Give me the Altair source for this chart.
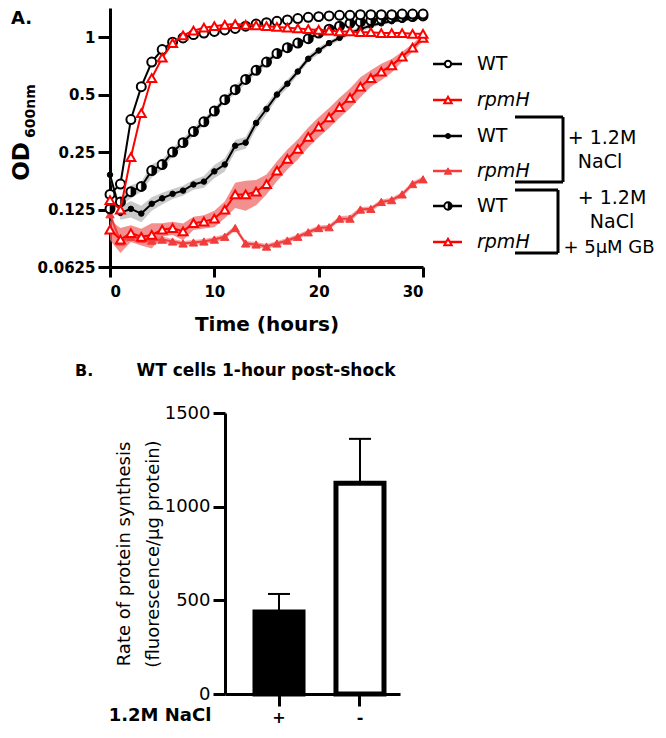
import altair as alt
import pandas as pd

# ---------------- data: panel A (OD600, hours 0..30) ----------------
hours = list(range(31))
wt = [0.15, 0.17, 0.37, 0.55, 0.74, 0.86, 0.94, 0.99, 1.03, 1.05, 1.07, 1.09, 1.11, 1.14, 1.17, 1.19,
      1.21, 1.23, 1.25, 1.27, 1.28, 1.29, 1.30, 1.30, 1.31, 1.31, 1.31, 1.31, 1.32, 1.32, 1.32]
rpmh = [0.14, 0.125, 0.235, 0.40, 0.61, 0.78, 0.93, 1.02, 1.08, 1.12, 1.14, 1.16, 1.17, 1.16, 1.15, 1.14,
        1.13, 1.12, 1.11, 1.10, 1.09, 1.08, 1.07, 1.07, 1.06, 1.06, 1.05, 1.05, 1.05, 1.04, 1.04]
wt_nacl = [0.19, 0.12, 0.126, 0.119, 0.134, 0.143, 0.151, 0.157, 0.169, 0.175, 0.198, 0.215, 0.27, 0.28,
           0.355, 0.42, 0.50, 0.57, 0.66, 0.77, 0.85, 0.93, 0.99, 1.05, 1.10, 1.15, 1.18, 1.21, 1.23, 1.25, 1.27]
rpmh_nacl = [0.118, 0.085, 0.09, 0.088, 0.086, 0.087, 0.085, 0.083, 0.084, 0.085, 0.087, 0.09, 0.1, 0.083,
             0.082, 0.08, 0.083, 0.086, 0.09, 0.095, 0.1, 0.101, 0.112, 0.112, 0.125, 0.126, 0.137, 0.14,
             0.15, 0.17, 0.18]
wt_nacl_gb = [0.126, 0.137, 0.155, 0.165, 0.2, 0.215, 0.25, 0.28, 0.32, 0.36, 0.41, 0.47, 0.53, 0.6, 0.67,
              0.74, 0.82, 0.88, 0.93, 0.98, 1.05, 1.1, 1.14, 1.18, 1.2, 1.22, 1.24, 1.26, 1.27, 1.28, 1.29]
rpmh_nacl_gb = [0.098, 0.087, 0.094, 0.09, 0.092, 0.098, 0.1, 0.096, 0.106, 0.108, 0.112, 0.125, 0.15, 0.15,
                0.155, 0.17, 0.2, 0.23, 0.26, 0.3, 0.34, 0.38, 0.43, 0.48, 0.55, 0.61, 0.66, 0.71, 0.79,
                0.88, 0.99]
# relative spread of the shaded error bands
sd_wt_nacl = [0.04, 0.08, 0.1, 0.1, 0.08, 0.07, 0.06, 0.06, 0.06, 0.07, 0.08, 0.08, 0.07, 0.07, 0.07, 0.06,
              0.05, 0.05, 0.04, 0.04, 0.04, 0.03, 0.03, 0.03, 0.03, 0.03, 0.02, 0.02, 0.02, 0.02, 0.02]
sd_wt_nacl_gb = [0.03, 0.04, 0.08, 0.06, 0.08, 0.06, 0.05, 0.05, 0.05, 0.04, 0.04, 0.04, 0.05, 0.05, 0.04,
                 0.04, 0.03, 0.03, 0.03, 0.03, 0.03, 0.03, 0.03, 0.02, 0.02, 0.02, 0.02, 0.02, 0.02, 0.02, 0.02]
sd_rpmh_nacl = [0.03, 0.04, 0.04, 0.04, 0.05, 0.04, 0.03, 0.03, 0.03, 0.03, 0.03, 0.03, 0.03, 0.03, 0.03,
                0.03, 0.03, 0.03, 0.03, 0.03, 0.03, 0.03, 0.03, 0.04, 0.03, 0.03, 0.03, 0.03, 0.03, 0.03, 0.03]
sd_rpmh_nacl_gb = [0.12, 0.15, 0.1, 0.1, 0.15, 0.08, 0.08, 0.1, 0.08, 0.08, 0.1, 0.1, 0.15, 0.18, 0.15,
                   0.12, 0.12, 0.12, 0.12, 0.12, 0.12, 0.12, 0.12, 0.12, 0.12, 0.1, 0.1, 0.08, 0.06, 0.05, 0.04]
od_ticks = [0.0625, 0.125, 0.25, 0.5, 1]
hour_ticks = [0, 10, 20, 30]

# ---------------- data: panel B ----------------
conditions = ["+", "-"]
rates = [438, 1125]
rate_err = [96, 237]
rate_ticks = [0, 500, 1000, 1500]

RED = "#ff0000"
RED2 = "#f23c3c"
BOLD = "DejaVu Sans"

# ---------------- encodings panel A ----------------
X_TOP = alt.X("t:Q",
              scale=alt.Scale(domain=[0, 30], range=[0, 313], nice=False, zero=False),
              axis=alt.Axis(orient="bottom", offset=-427, values=hour_ticks, title="Time (hours)",
                            labelFont=BOLD, labelFontWeight="bold", labelFontSize=15, labelColor="black",
                            labelPadding=7, tickSize=10, tickWidth=3, tickColor="black",
                            domainWidth=3, domainColor="black", grid=False,
                            titleFont=BOLD, titleFontWeight="bold", titleFontSize=20, titleColor="black",
                            titlePadding=15))
Y_AX = alt.Axis(orient="left", values=od_ticks, format="~g", title=None,
                labelFont=BOLD, labelFontWeight="bold", labelFontSize=15, labelColor="black",
                labelPadding=3, tickSize=12, tickWidth=3, tickColor="black",
                domainWidth=3, domainColor="black", grid=False)
Y_SCALE = alt.Scale(type="log", base=2, domain=[0.0625, 1.42], range=[259, 0], nice=False)


def series_df(vals, sd):
    return pd.DataFrame({"t": hours, "od": vals,
                         "lo": [v * (1 - s) for v, s in zip(vals, sd)],
                         "hi": [v * (1 + s) for v, s in zip(vals, sd)]})


def band(df, color, op):
    return alt.Chart(df).mark_area(color=color, opacity=op).encode(
        x=X_TOP, y=alt.Y("lo:Q", scale=Y_SCALE, axis=Y_AX), y2="hi:Q")


def line(df, color):
    return alt.Chart(df).mark_line(color=color, strokeWidth=2).encode(
        x=X_TOP, y=alt.Y("od:Q", scale=Y_SCALE, axis=Y_AX))


def pts(df, shape, fill, stroke, size, sw):
    return alt.Chart(df).mark_point(shape=shape, filled=True, fill=fill, stroke=stroke,
                                    strokeWidth=sw, size=size, opacity=1).encode(
        x=X_TOP, y=alt.Y("od:Q", scale=Y_SCALE, axis=Y_AX))


HALF = "M0,-1A1,1,0,0,1,0,1Z"

d_wt = series_df(wt, [0] * 31)
d_rpmh = series_df(rpmh, [0] * 31)
d_wtn = series_df(wt_nacl, sd_wt_nacl)
d_rpn = series_df(rpmh_nacl, sd_rpmh_nacl)
d_wtg = series_df(wt_nacl_gb, sd_wt_nacl_gb)
d_rpg = series_df(rpmh_nacl_gb, sd_rpmh_nacl_gb)

top_layers = [
    band(d_rpg, "#f06a6a", 0.75),
    band(d_rpn, "#f06a6a", 0.6),
    band(d_wtn, "#bdbdbd", 0.8),
    band(d_wtg, "#bdbdbd", 0.8),
    line(d_rpn, RED2), pts(d_rpn, "triangle-up", RED2, RED2, 70, 1),
    line(d_rpg, RED), pts(d_rpg, "triangle-up", "white", RED, 80, 2),
    line(d_wtn, "black"), pts(d_wtn, "circle", "black", "black", 30, 1),
    line(d_wtg, "black"), pts(d_wtg, "circle", "white", "black", 80, 2),
    pts(d_wtg, HALF, "black", "black", 80, 0.5),
    line(d_wt, "black"), pts(d_wt, "circle", "white", "black", 80, 2),
    line(d_rpmh, RED), pts(d_rpmh, "triangle-up", "white", RED, 80, 2),
]
top = alt.layer(*top_layers)

# ---------------- panel B ----------------
bar_df = pd.DataFrame({"cond": conditions, "rate": rates,
                       "top": [r + e for r, e in zip(rates, rate_err)]})
X_BAR = alt.X("cond:N", sort=conditions,
              scale=alt.Scale(domain=conditions, range=[115, 290], paddingInner=0.407,
                              paddingOuter=0.284, align=0.652),
              axis=alt.Axis(orient="bottom", title=None, labelAngle=0,
                            labelFont=BOLD, labelFontWeight="bold", labelFontSize=16, labelColor="black",
                            labelPadding=3, tickSize=12, tickWidth=3, tickColor="black",
                            domainWidth=3, domainColor="black", grid=False))
Y_BAR_SCALE = alt.Scale(domain=[0, 1500], range=[686, 405], nice=False)
Y_BAR_AX = alt.Axis(orient="left", offset=-115, values=rate_ticks, format="d",
                    title=["Rate of protein synthesis", "(fluorescence/\u03bcg protein)"],
                    titleFont="DejaVu Sans", titleFontWeight="normal", titleFontSize=18,
                    titleColor="black", titleLineHeight=29, titlePadding=2,
                    labelFont="DejaVu Sans", labelFontSize=18, labelColor="black", labelPadding=3,
                    tickSize=12, tickWidth=3, tickColor="black", domainWidth=3, domainColor="black",
                    grid=False)

bars = alt.Chart(bar_df).mark_bar(stroke="black", strokeWidth=5).encode(
    x=X_BAR,
    y=alt.Y("rate:Q", scale=Y_BAR_SCALE, axis=Y_BAR_AX),
    fill=alt.Fill("cond:N", scale=alt.Scale(domain=conditions, range=["black", "white"]), legend=None),
)
err_rule = alt.Chart(bar_df).mark_rule(color="black", strokeWidth=2).encode(
    x=X_BAR, y=alt.Y("rate:Q", scale=Y_BAR_SCALE, axis=Y_BAR_AX), y2="top:Q")
err_cap = alt.Chart(bar_df).mark_tick(color="black", size=22, thickness=2, opacity=1).encode(
    x=X_BAR, y=alt.Y("top:Q", scale=Y_BAR_SCALE, axis=Y_BAR_AX))
bottom = alt.layer(bars, err_rule, err_cap)

# ---------------- annotations (legend, brackets, labels) ----------------
ONE = alt.Data(values=[{}])


def txt(s, x, y, size, weight="normal", align="center", font="DejaVu Sans", style="normal",
        angle=0, baseline="middle"):
    return alt.Chart(ONE).mark_text(text=s, fontSize=size, fontWeight=weight, align=align,
                                    baseline=baseline, font=font, fontStyle=style, angle=angle,
                                    color="black").encode(x=alt.value(x), y=alt.value(y))


def seg(x1, y1, x2, y2, color="black", w=3):
    return alt.Chart(ONE).mark_rule(color=color, strokeWidth=w).encode(
        x=alt.value(x1), y=alt.value(y1), x2=alt.value(x2), y2=alt.value(y2))


def sym(x, y, shape, fill, stroke, size, sw):
    return alt.Chart(ONE).mark_point(shape=shape, filled=True, fill=fill, stroke=stroke,
                                     strokeWidth=sw, size=size, opacity=1).encode(
        x=alt.value(x), y=alt.value(y))


legend_rows = [
    ("WT", "normal", "black", [("circle", "white", "black", 40, 2)]),
    ("rpmH", "italic", RED, [("triangle-up", "white", RED, 55, 2)]),
    ("WT", "normal", "black", [("circle", "black", "black", 25, 1)]),
    ("rpmH", "italic", RED2, [("triangle-up", RED2, RED2, 55, 1)]),
    ("WT", "normal", "black", [("circle", "white", "black", 55, 2), (HALF, "black", "black", 55, 0.5)]),
    ("rpmH", "italic", RED, [("triangle-up", "white", RED, 55, 2)]),
]
legend_y = [56, 92, 128, 163, 198, 234]
annot = []
for (label, st, col, marks), ly in zip(legend_rows, legend_y):
    annot.append(seg(323, ly, 352, ly, color=col, w=2.5))
    for m in marks:
        annot.append(sym(338, ly, *m))
    annot.append(txt(label, 367, ly, 19, align="left", style=st))

# brackets
annot += [seg(405, 109, 453, 109), seg(453, 109, 453, 174), seg(405, 174, 453, 174),
          seg(405, 182, 448, 182), seg(448, 182, 448, 245), seg(405, 245, 448, 245)]
annot += [txt("+ 1.2M", 492, 130, 19), txt("NaCl", 490, 154, 19),
          txt("+ 1.2M", 502, 190, 19), txt("NaCl", 502, 214, 19),
          txt("+ 5\u03bcM GB", 499, 240, 18)]

# panel labels and titles
annot += [txt("A.", -99, 11, 18, weight="bold", align="left"),
          txt("OD", -88, 153.5, 23, weight="bold", angle=270),
          txt("600nm", -79, 103, 14, weight="bold", angle=270),
          txt("B.", -35, 363, 16, weight="bold", align="left"),
          txt("WT cells 1-hour post-shock", 156, 363, 17, weight="bold"),
          txt("1.2M NaCl", 50, 708, 18, weight="bold")]

chart = alt.layer(top, bottom, *annot).resolve_scale(x="independent", y="independent").properties(
    width=548, height=686,
    padding={"left": 102, "top": 0, "right": 0, "bottom": 36},
    autosize=alt.AutoSizeParams(type="none"),
).configure_view(stroke=None)

chart.save("out.html", embed_options={"renderer": "svg", "actions": False})
